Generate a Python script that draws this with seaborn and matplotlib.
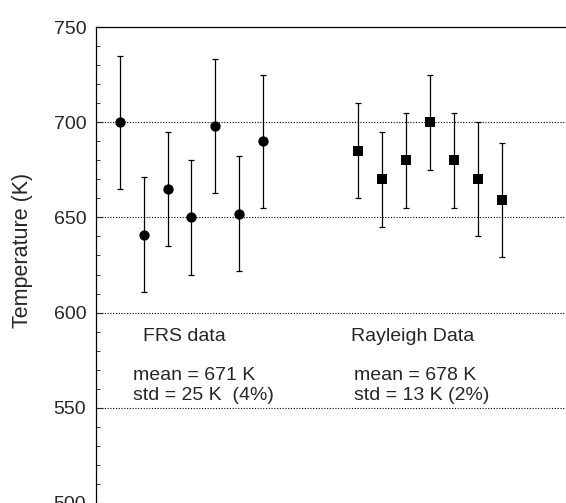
import matplotlib
matplotlib.use("Agg")
import matplotlib.pyplot as plt
from matplotlib.ticker import MultipleLocator
import numpy as np
import pandas as pd
import seaborn as sns

# FRS data (circles)
frs_x = [1, 2, 3, 4, 5, 6, 7]
frs_t = [700, 641, 665, 650, 698, 652, 690]
frs_err = [35, 30, 30, 30, 35, 30, 35]

# Rayleigh data (squares)
ray_x = [11, 12, 13, 14, 15, 16, 17]
ray_t = [685, 670, 680, 700, 680, 670, 659]
ray_err = [25, 25, 25, 25, 25, 30, 30]

grid_levels = [550, 600, 650, 700]

sns.set_style("white")
plt.rcParams['font.family'] = ['Liberation Sans', 'DejaVu Sans']

fig = plt.figure(figsize=(5.66, 5.03), dpi=100)
ax = fig.add_axes([96 / 566, 0.0, 1 - 96 / 566, 1 - 27 / 503])

for lv in grid_levels:
    ax.axhline(lv, color='black', lw=0.8, ls=(0, (1, 1.5)), zorder=0)

ax.errorbar(frs_x, frs_t, yerr=frs_err, fmt='none', ecolor='black',
            elinewidth=0.9, capsize=2.5, capthick=0.9)
ax.errorbar(ray_x, ray_t, yerr=ray_err, fmt='none', ecolor='black',
            elinewidth=0.9, capsize=2.5, capthick=0.9)

frs = pd.DataFrame({'x': frs_x, 't': frs_t})
ray = pd.DataFrame({'x': ray_x, 't': ray_t})
sns.scatterplot(data=frs, x='x', y='t', marker='o', s=55, color='black',
                edgecolor='black', linewidth=0, ax=ax, zorder=3)
sns.scatterplot(data=ray, x='x', y='t', marker='s', s=60, color='black',
                edgecolor='black', linewidth=0, ax=ax, zorder=3)

ax.set_xlim(0, 19.7)
ax.set_ylim(500, 750)
ax.yaxis.set_major_locator(MultipleLocator(50))
ax.yaxis.set_minor_locator(MultipleLocator(10))
ax.tick_params(axis='y', which='major', direction='in', length=5, width=0.8,
               labelsize=14, pad=7, left=True)
ax.tick_params(axis='y', which='minor', direction='in', length=3, width=0.6, left=True)
ax.set_xticks([])
ax.set_xlabel('')
ax.set_ylabel('')
fig.text(23 / 566, 1 - 250 / 503, 'Temperature (K)', fontsize=15.5,
         rotation=90, ha='center', va='center')

for side in ['right', 'bottom']:
    ax.spines[side].set_visible(False)
for side in ['left', 'top']:
    ax.spines[side].set_color('black')
    ax.spines[side].set_linewidth(0.9)

ax.text(1.97, 587.5, 'FRS data', fontsize=14, va='center', ha='left')
ax.text(1.55, 567, 'mean = 671 K', fontsize=14, va='center', ha='left')
ax.text(1.55, 556.5, 'std = 25 K  (4%)', fontsize=14, va='center', ha='left')
ax.text(10.7, 587.5, 'Rayleigh Data', fontsize=14, va='center', ha='left')
ax.text(10.8, 567, 'mean = 678 K', fontsize=14, va='center', ha='left')
ax.text(10.8, 556.5, 'std = 13 K (2%)', fontsize=14, va='center', ha='left')

fig.savefig('out.png', dpi=100)
